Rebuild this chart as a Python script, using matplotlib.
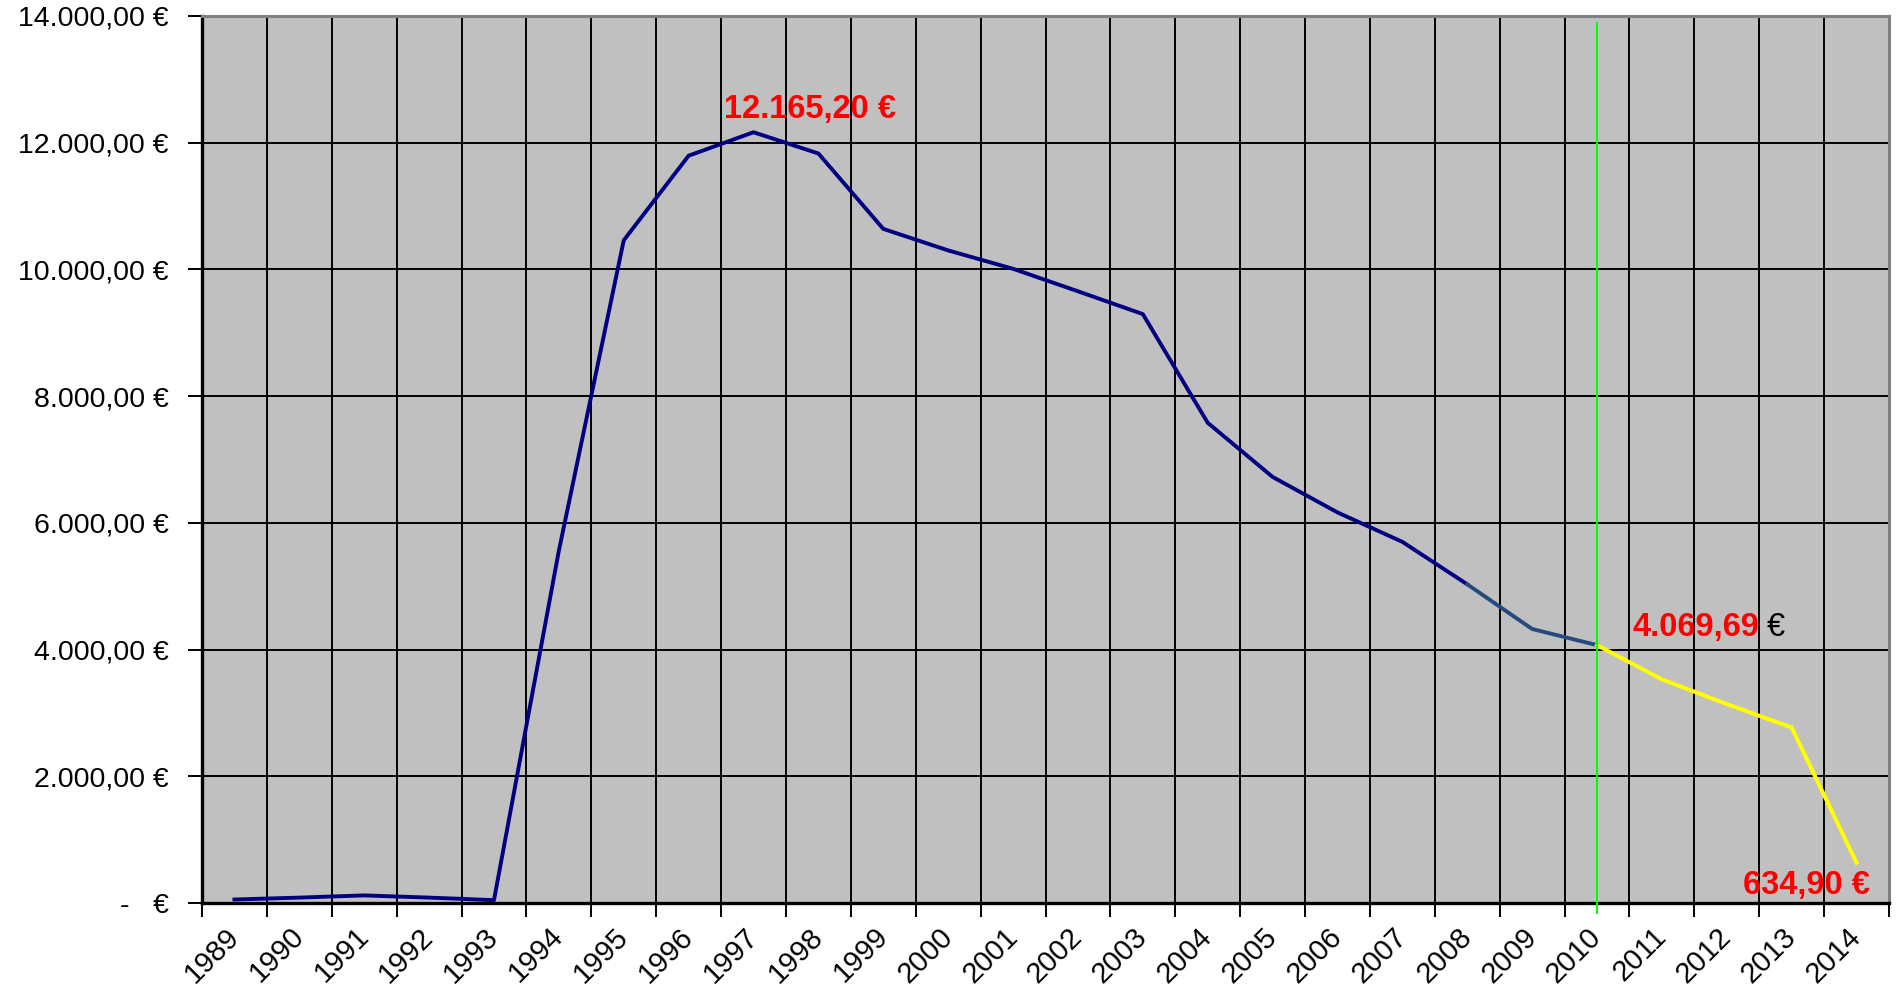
import matplotlib
matplotlib.use("Agg")
import matplotlib.pyplot as plt
import numpy as np

plt.rcParams['font.family'] = ['Liberation Sans', 'DejaVu Sans']

years = ['1989', '1990', '1991', '1992', '1993', '1994', '1995', '1996', '1997',
         '1998', '1999', '2000', '2001', '2002', '2003', '2004', '2005', '2006',
         '2007', '2008', '2009', '2010', '2011', '2012', '2013', '2014']
werte = [55, 85, 120, 85, 45, 5560, 10460, 11795, 12165.20,
         11830, 10640, 10300, 10010, 9655, 9295, 7580, 6725, 6165,
         5700, 5030, 4325, 4069.69, 3530, 3140, 2770, 634.90]

y_ticks = [0, 2000, 4000, 6000, 8000, 10000, 12000, 14000]
y_labels = ['-   €', '2.000,00 €', '4.000,00 €', '6.000,00 €', '8.000,00 €',
            '10.000,00 €', '12.000,00 €', '14.000,00 €']

i_max = 8     # 1997
i_grenze = 19  # 2008 -> Farbwechsel
i_heute = 21  # 2010
i_ende = 25   # 2014

fig = plt.figure(figsize=(18.96, 9.91), dpi=100)
ax = fig.add_axes([202/1896, 88/991, 1687/1896, 887/991])
ax.set_facecolor('#C0C0C0')

x = np.arange(len(years))
w = np.array(werte)

ax.plot(x[:i_grenze+1], w[:i_grenze+1], color='#000080', lw=2.8, zorder=3)
ax.plot(x[i_grenze:i_heute+1], w[i_grenze:i_heute+1], color='#264A7C', lw=2.8, zorder=3)
ax.plot(x[i_heute:], w[i_heute:], color='#FFFF00', lw=2.9, zorder=3)

# senkrechte Linie bei 2010
ax.axvline(i_heute, ymin=-10/887, ymax=880/887, color='#00FF00', lw=1.4, clip_on=False, zorder=4)

ax.set_xlim(-0.5, len(years) - 0.5)
ax.set_ylim(0, 14000)

# Gitter
ax.set_xticks(np.arange(-0.5, len(years), 1.0))
ax.set_xticklabels([])
ax.set_xticks(x, minor=True)
ax.set_xticklabels(years, minor=True, rotation=45, ha='right', va='center',
                   rotation_mode='anchor', fontsize=21)
ax.tick_params(axis='x', which='major', length=10, width=1.4, direction='out')
ax.tick_params(axis='x', which='minor', length=0, pad=21)
ax.set_yticks(y_ticks)
ax.set_yticklabels(y_labels, fontsize=20.5)
ax.tick_params(axis='y', length=10, width=1.4, pad=14)
ax.grid(True, which='major', color='black', lw=1.4)
ax.set_axisbelow(True)

for s in ['left', 'bottom']:
    ax.spines[s].set_color('black')
    ax.spines[s].set_linewidth(2.4)
for s in ['top', 'right']:
    ax.spines[s].set_color('#808080')
    ax.spines[s].set_linewidth(2.2)

# Beschriftungen
ax.annotate('12.165,20 €', xy=(i_max, werte[i_max]), xytext=(56, 23),
            textcoords='offset pixels', ha='center', va='center',
            color='red', fontsize=23.5, fontweight='bold', zorder=5)
ax.annotate('4.069,69', xy=(i_heute, werte[i_heute]), xytext=(35, 18),
            textcoords='offset pixels', ha='left', va='center',
            color='red', fontsize=23.5, fontweight='bold', zorder=5)
ax.annotate('€', xy=(i_heute, werte[i_heute]), xytext=(170, 18),
            textcoords='offset pixels', ha='left', va='center',
            color='black', fontsize=23.5, zorder=5)
ax.annotate('634,90 €', xy=(i_ende, werte[i_ende]), xytext=(-50, -23),
            textcoords='offset pixels', ha='center', va='center',
            color='red', fontsize=23.5, fontweight='bold', zorder=5)

fig.savefig('out.png', dpi=100)
